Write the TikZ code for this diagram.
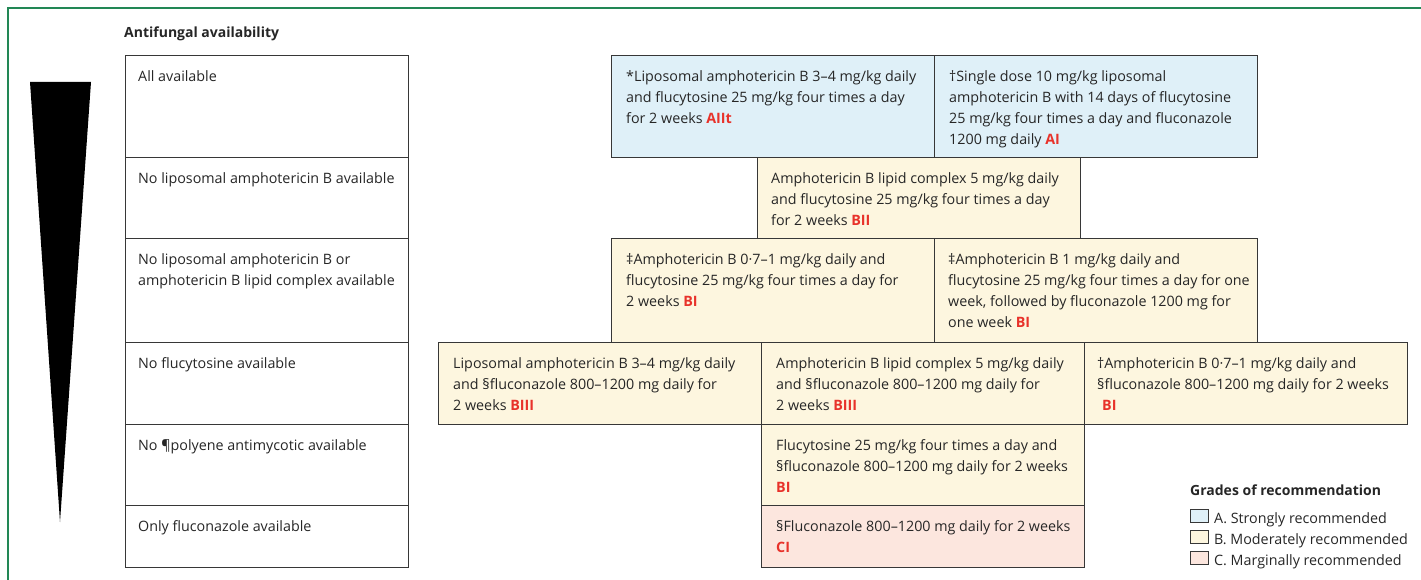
\documentclass[tikz,border=0pt]{standalone}
\usepackage{fontspec}
\setmainfont{Open Sans}
\definecolor{framegreen}{RGB}{34,135,85}
\definecolor{bordercol}{RGB}{55,55,55}
\definecolor{gradeA}{RGB}{223,240,248}
\definecolor{gradeB}{RGB}{253,246,223}
\definecolor{gradeC}{RGB}{252,230,222}
\definecolor{gradered}{RGB}{232,50,42}
\newcommand\gr[1]{\textcolor{gradered}{\bfseries #1}}
\newcommand\mycell[8]{%
  \node[cellbox, fill=#6, minimum width=#4pt, minimum height=#5pt] (#1) at (#2,#3) {};
  \node[celltxt] (#1t) at ([xshift=#8pt,yshift=-26.5pt]#1.north west) {\parbox[t]{400pt}{\raggedright #7}};}
\begin{document}
\begin{tikzpicture}[x=1pt,y=-1pt,
  cellbox/.style={draw=bordercol, line width=1.2pt, rectangle, inner sep=0pt, anchor=north west},
  celltxt/.style={inner sep=0pt, anchor=base west, font=\fontsize{14.3}{21}\selectfont, text=black!85},
  legsq/.style={draw=bordercol, line width=0.9pt, rectangle, inner sep=0pt, minimum width=18pt, minimum height=13pt, anchor=south west},
  legtxt/.style={inner sep=0pt, anchor=base west, font=\fontsize{14.3}{21}\selectfont, text=black!85},
  headtxt/.style={inner sep=0pt, anchor=base west, font=\fontsize{14}{21}\selectfont\bfseries, text=black!85}]
\useasboundingbox (0,0) rectangle (1421,580);
% frame
\coordinate (fa) at (8,580);
\coordinate (fb) at (8,8);
\coordinate (fc) at (1421,8);
\draw[framegreen, line width=1.4pt] (fa) -- (fb) -- (fc);
% wedge
\coordinate (w1) at (30,82);
\coordinate (w2) at (91,82);
\coordinate (w3) at (60,522);
\fill[black] (w1) -- (w2) -- (w3) -- cycle;
% title
\node[headtxt] (title) at (124,38) {Antifungal availability};
% left column
\mycell{L1}{125}{55}{283}{102}{white}{All available}{13}
\mycell{L2}{125}{157}{283}{81}{white}{No liposomal amphotericin B available}{13}
\mycell{L3}{125}{238}{283}{104}{white}{No liposomal amphotericin B or\\amphotericin B lipid complex available}{13}
\mycell{L4}{125}{342}{283}{82}{white}{No flucytosine available}{13}
\mycell{L5}{125}{424}{283}{81}{white}{No \P polyene antimycotic available}{13}
\mycell{L6}{125}{505}{283}{62}{white}{Only fluconazole available}{13}
% row 1
\mycell{R1a}{611}{55}{323}{102}{gradeA}{*Liposomal amphotericin B 3–4 mg/kg daily\\and flucytosine 25 mg/kg four times a day\\for 2 weeks \gr{AIIt}}{15}
\mycell{R1b}{934}{55}{323}{102}{gradeA}{†Single dose 10 mg/kg liposomal\\amphotericin B with 14 days of flucytosine\\25 mg/kg four times a day and fluconazole\\1200 mg daily \gr{AI}}{15}
% row 2
\mycell{R2}{757}{157}{323}{81}{gradeB}{Amphotericin B lipid complex 5 mg/kg daily\\and flucytosine 25 mg/kg four times a day\\for 2 weeks \gr{BII}}{14}
% row 3
\mycell{R3a}{611}{238}{323}{104}{gradeB}{‡Amphotericin B 0·7–1 mg/kg daily and\\flucytosine 25 mg/kg four times a day for\\2 weeks \gr{BI}}{15}
\mycell{R3b}{934}{238}{323}{104}{gradeB}{‡Amphotericin B 1 mg/kg daily and\\flucytosine 25 mg/kg four times a day for one\\week, followed by fluconazole 1200 mg for\\one week \gr{BI}}{14}
% row 4
\mycell{R4a}{438}{342}{323}{82}{gradeB}{Liposomal amphotericin B 3–4 mg/kg daily\\and §fluconazole 800–1200 mg daily for\\2 weeks \gr{BIII}}{15}
\mycell{R4b}{761}{342}{323}{82}{gradeB}{Amphotericin B lipid complex 5 mg/kg daily\\and §fluconazole 800–1200 mg daily for\\2 weeks \gr{BIII}}{15}
\mycell{R4c}{1084}{342}{323}{82}{gradeB}{†Amphotericin B 0·7–1 mg/kg daily and\\§fluconazole 800–1200 mg daily for 2 weeks\\\hspace*{5pt}\gr{BI}}{13}
% row 5
\mycell{R5}{761}{424}{323}{81}{gradeB}{Flucytosine 25 mg/kg four times a day and\\§fluconazole 800–1200 mg daily for 2 weeks\\\gr{BI}}{15}
% row 6
\mycell{R6}{761}{505}{323}{62}{gradeC}{§Fluconazole 800–1200 mg daily for 2 weeks\\\gr{CI}}{15}
% legend
\node[headtxt] (legtitle) at (1190,495) {Grades of recommendation};
\node[legsq, fill=gradeA] (sqA) at (1190,523) {};
\node[legsq, fill=gradeB] (sqB) at (1190,544) {};
\node[legsq, fill=gradeC] (sqC) at (1190,565) {};
\node[legtxt] (ltA) at (1214,523) {A. Strongly recommended};
\node[legtxt] (ltB) at (1214,544) {B. Moderately recommended};
\node[legtxt] (ltC) at (1214,565) {C. Marginally recommended};
\end{tikzpicture}
\end{document}
